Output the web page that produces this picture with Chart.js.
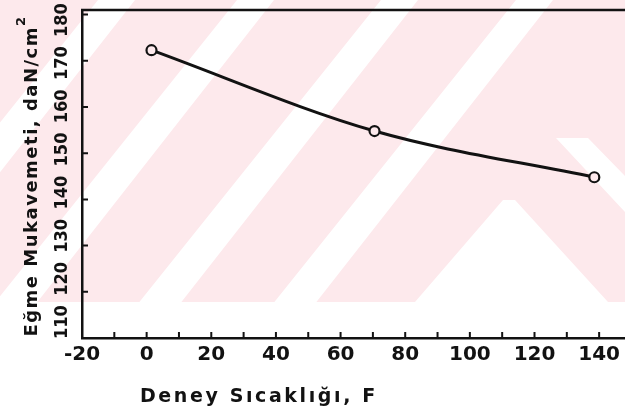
<!DOCTYPE html>
<html>
<head>
<meta charset="utf-8">
<script src="https://cdn.jsdelivr.net/npm/chart.js@4.4.1/dist/chart.umd.min.js"></script>
<style>
  html, body { margin: 0; padding: 0; background: #fff; }
  #wrap { position: relative; width: 625px; height: 417px; }
</style>
</head>
<body>
<div id="wrap"><canvas id="chart"></canvas></div>
<script>
// values
const temps = [1.5, 70.5, 138.5];
const strength = [172.3, 154.8, 144.8];
const xTickLabels = [-20, 0, 20, 40, 60, 80, 100, 120, 140];
const yTickLabels = [110, 120, 130, 140, 150, 160, 170, 180];
const xTitle = "Deney Sıcaklığı, F";
const yTitle = "Eğme Mukavemeti, daN/cm";

const ink = "#121212";
const pink = "#fde9ec";

// the pink/white watermark behind the scan
const watermark = {
  id: "watermark",
  beforeDraw(chart) {
    const ctx = chart.ctx;
    const h = 302;
    ctx.save();
    ctx.fillStyle = pink;
    ctx.fillRect(0, 0, chart.width, h);
    ctx.fillStyle = "#fff";
    ctx.beginPath();
    [-40, 98, 237, 381, 516].forEach(x0 => {
      ctx.moveTo(x0, 0);
      ctx.lineTo(x0 + 37, 0);
      ctx.lineTo(x0 + 42 - 0.8 * h, h);
      ctx.lineTo(x0 - 0.8 * h, h);
      ctx.closePath();
    });
    ctx.moveTo(415, h);
    ctx.lineTo(503, 200);
    ctx.lineTo(515, 200);
    ctx.lineTo(608, h);
    ctx.closePath();
    ctx.moveTo(556, 138);
    ctx.lineTo(588, 138);
    ctx.lineTo(625, 176);
    ctx.lineTo(625, 212);
    ctx.closePath();
    ctx.fill();
    ctx.restore();
  }
};

// top frame line, inward ticks, rotated y labels and the axis titles
const frame = {
  id: "frame",
  afterDraw(chart) {
    const { ctx, chartArea: a, scales: { x, y } } = chart;
    ctx.save();
    ctx.strokeStyle = ink;
    ctx.lineWidth = 2.5;
    ctx.beginPath();
    ctx.moveTo(a.left - 1, a.top);
    ctx.lineTo(a.right, a.top);
    ctx.stroke();

    ctx.lineWidth = 2;
    ctx.beginPath();
    x.ticks.forEach(t => {
      if (t.value <= x.min || t.value % 10 !== 0) return;
      const px = x.getPixelForValue(t.value);
      ctx.moveTo(px, a.bottom);
      ctx.lineTo(px, a.bottom - 6);
    });
    yTickLabels.forEach(v => {
      if (v <= y.min) return;
      const py = y.getPixelForValue(v);
      ctx.moveTo(a.left, py);
      ctx.lineTo(a.left + 6, py);
    });
    ctx.stroke();

    ctx.fillStyle = ink;
    ctx.textAlign = "center";
    ctx.textBaseline = "middle";
    ctx.font = 'bold 18px "DejaVu Sans Condensed"';
    yTickLabels.forEach(v => {
      const py = y.getPixelForValue(v);
      const c = 6.4 + 0.934 * py; // the printed label column sits a little tighter than the ticks
      ctx.save();
      ctx.translate(62, c);
      ctx.rotate(-Math.PI / 2);
      ctx.fillText(String(v), 0, 0);
      ctx.restore();
    });

    // y title
    ctx.save();
    ctx.letterSpacing = "1.5px";
    ctx.font = 'bold 18px "DejaVu Sans"';
    const w1 = ctx.measureText(yTitle).width;
    ctx.font = 'bold 13px "DejaVu Sans"';
    const w2 = ctx.measureText("2").width;
    ctx.translate(32, (a.top + a.bottom) / 2 + 2);
    ctx.rotate(-Math.PI / 2);
    ctx.textAlign = "left";
    ctx.font = 'bold 18px "DejaVu Sans"';
    const start = -(w1 + w2) / 2;
    ctx.fillText(yTitle, start, 0);
    ctx.font = 'bold 13px "DejaVu Sans"';
    ctx.fillText("2", start + w1, -10);
    ctx.restore();

    // x title
    ctx.save();
    ctx.letterSpacing = "2.6px";
    ctx.font = 'bold 19px "DejaVu Sans"';
    ctx.textAlign = "left";
    ctx.fillText(xTitle, 140, 397);
    ctx.restore();

    ctx.restore();
  }
};

new Chart(document.getElementById("chart"), {
  type: "line",
  data: {
    datasets: [{
      data: temps.map((t, i) => ({ x: t, y: strength[i] })),
      borderColor: ink,
      borderWidth: 3,
      cubicInterpolationMode: "monotone",
      pointRadius: 5,
      pointBorderWidth: 2.2,
      pointBorderColor: ink,
      pointBackgroundColor: pink,
      fill: false
    }]
  },
  options: {
    responsive: true,
    maintainAspectRatio: false,
    animation: false,
    layout: { autoPadding: false, padding: { top: 10, right: 0, left: 0, bottom: 0 } },
    plugins: { legend: { display: false }, tooltip: { enabled: false } },
    scales: {
      x: {
        type: "linear",
        min: -20,
        max: 148,
        afterFit: s => { s.height = 79; s.paddingRight = 0; s.paddingLeft = 0; },
        grid: { display: false, drawTicks: false },
        border: { display: true, color: ink, width: 2.5 },
        ticks: {
          stepSize: 10,
          includeBounds: false,
          autoSkip: false,
          maxRotation: 0,
          padding: 5,
          color: ink,
          font: { family: "DejaVu Sans", size: 20, weight: "bold" },
          callback: v => (xTickLabels.includes(v) ? String(v) : "")
        }
      },
      y: {
        min: 110,
        max: 181,
        afterFit: s => { s.width = 82; },
        grid: { display: false, drawTicks: false },
        border: { display: true, color: ink, width: 2.5 },
        ticks: { display: false, stepSize: 10 }
      }
    }
  },
  plugins: [watermark, frame]
});
</script>
</body>
</html>
